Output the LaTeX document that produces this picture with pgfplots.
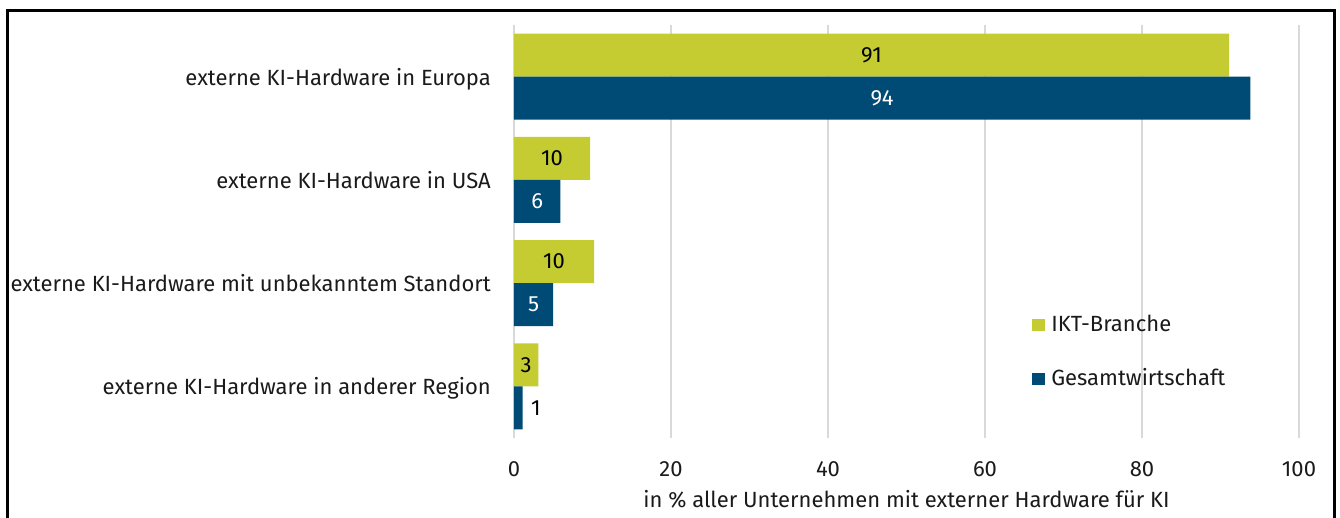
\documentclass[border=0pt]{standalone}
\usepackage{fontspec}
\setmainfont{Fira Sans}
\usepackage{pgfplots}
\pgfplotsset{compat=1.18}
\definecolor{ikt}{HTML}{C4CC32}
\definecolor{gesamt}{HTML}{004B75}
\definecolor{gridc}{HTML}{D9D9D9}
\definecolor{txt}{HTML}{1A1A1A}
\begin{document}
\begin{tikzpicture}[font=\fontsize{22}{26}\selectfont]
\path[use as bounding box] (-514pt,-79pt) rectangle (826pt,438pt);
\begin{axis}[
  at={(0pt,0pt)}, anchor=south west,
  scale only axis, width=785pt, height=413pt,
  xmin=0, xmax=100, ymin=-0.5, ymax=3.5,
  xtick={0,20,40,60,80,100},
  ytick={0,1,2,3},
  yticklabels={externe KI-Hardware in anderer Region, externe KI-Hardware mit unbekanntem Standort, externe KI-Hardware in USA, externe KI-Hardware in Europa},
  major tick length=0pt,
  axis line style={draw=none},
  xmajorgrids, grid style={color=gridc, line width=2pt},
  /pgf/number format/assume math mode=true,
  x tick label style={anchor=base, inner sep=0pt, yshift=-38pt, text=txt},
  y tick label style={anchor=base east, inner sep=0pt, xshift=-23pt, yshift=-8.5pt, text=txt},
  xlabel={in \% aller Unternehmen mit externer Hardware für KI},
  xlabel style={at={(axis description cs:0.5,0)}, anchor=base, inner sep=0pt, yshift=-69pt, text=txt},
  legend cell align=left,
  legend style={draw=none, fill=none, inner sep=0pt, at={(axis cs:66,0.6816)}, anchor=north west,
    row sep=39pt, nodes={inner sep=0pt, text=txt, text height=15pt, text depth=0pt},
    /tikz/every odd column/.style={column sep=6.5pt}},
  legend image code/.code={\fill[#1] (0pt,-7.5pt) rectangle (12.5pt,5pt);},
]
\addplot[xbar, bar width=43pt, bar shift=21.5pt, fill=ikt, draw=none]
  coordinates {(91.1,3) (9.7,2) (10.2,1) (3.1,0)};
\addlegendentry{IKT-Branche}
\addplot[xbar, bar width=43pt, bar shift=-21.5pt, fill=gesamt, draw=none]
  coordinates {(93.8,3) (5.9,2) (5.0,1) (1.1,0)};
\addlegendentry{Gesamtwirtschaft}
\addplot[forget plot, only marks, mark=*, mark size=0pt, mark options={draw opacity=0, fill opacity=0},
  nodes near coords, point meta=explicit symbolic,
  nodes near coords style={anchor=center, text=black, text opacity=1}]
  coordinates {(45.55,3.208) [91] (4.85,2.208) [10] (5.1,1.208) [10] (1.55,0.208) [3] (2.8,-0.208) [1]};
\addplot[forget plot, only marks, mark=*, mark size=0pt, mark options={draw opacity=0, fill opacity=0},
  nodes near coords, point meta=explicit symbolic,
  nodes near coords style={anchor=center, text=white, text opacity=1}]
  coordinates {(46.9,2.792) [94] (2.95,1.792) [6] (2.5,0.792) [5]};
\end{axis}
\draw[line width=3pt, black] (-506.5pt,-90pt) -- (-506.5pt,427.5pt) -- (820pt,427.5pt) -- (820pt,-90pt);
\end{tikzpicture}
\end{document}
